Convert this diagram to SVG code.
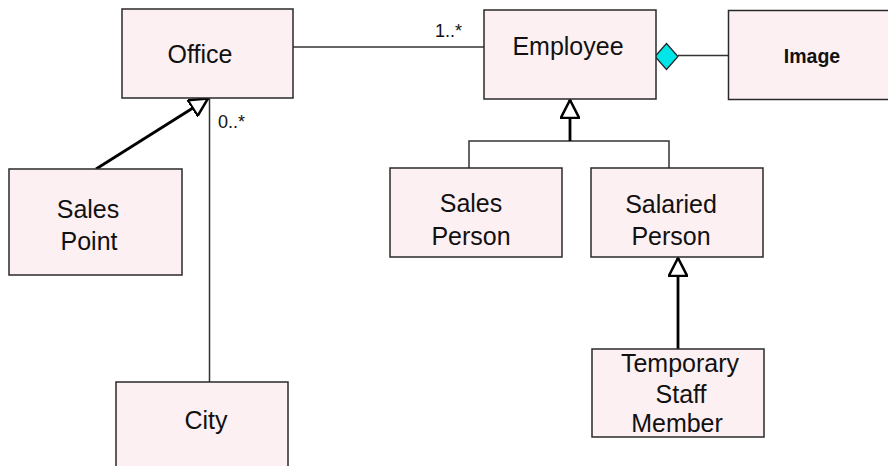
<svg xmlns="http://www.w3.org/2000/svg" width="888" height="466" viewBox="0 0 888 466">
  <style>
    .box { fill: #fdf0f3; stroke: #2a2a2a; stroke-width: 1.5; }
    .lbl { font-family: "Liberation Sans", Arial, sans-serif; font-size: 25px; fill: #111; text-anchor: middle; }
    .bold { font-weight: bold; font-size: 19.5px; }
    .mult { font-family: "Liberation Sans", Arial, sans-serif; font-size: 18px; fill: #111; }
    .assoc { fill: none; stroke: #333; stroke-width: 1.5; }
    .gen { fill: none; stroke: #000; stroke-width: 2.8; }
  </style>
  <defs>
    <marker id="hollow" viewBox="0 0 20 20" refX="19" refY="10" markerWidth="20" markerHeight="20" markerUnits="userSpaceOnUse" orient="auto">
      <path d="M1,0.8 L19,10 L1,19.2 Z" fill="#fff" stroke="#000" stroke-width="2.5" stroke-linejoin="miter"/>
    </marker>
  </defs>

  <g id="connectors">
    <!-- Office to Employee association -->
    <line class="assoc" x1="293" y1="47" x2="486" y2="47"/>
    <text class="mult" x="435" y="37">1..*</text>
    <!-- Office to City association -->
    <line class="assoc" x1="209.5" y1="98" x2="209.5" y2="382"/>
    <text class="mult" x="218" y="128">0..*</text>
    <!-- Sales Point generalizes to Office -->
    <line class="gen" x1="96" y1="169" x2="208" y2="98.5" marker-end="url(#hollow)"/>
    <!-- Employee generalization tree -->
    <polyline class="assoc" points="469,168 469,141 669,141 669,168"/>
    <line class="gen" x1="570" y1="141" x2="570" y2="100" marker-end="url(#hollow)"/>
    <!-- Temporary Staff Member generalizes to Salaried Person -->
    <line class="gen" x1="678" y1="349" x2="678" y2="258" marker-end="url(#hollow)"/>
    <!-- Employee composition of Image -->
    <line class="assoc" x1="678" y1="55.5" x2="728" y2="55.5"/>
    <polygon points="655,56.5 666.5,43.5 678,56.5 666.5,69.5" fill="#00e5e8" stroke="#222" stroke-width="1.2"/>
  </g>

  <g id="office">
    <rect class="box" x="122" y="9" width="171" height="89"/>
    <text class="lbl" x="200" y="63">Office</text>
  </g>

  <g id="employee">
    <rect class="box" x="484" y="10" width="172" height="89"/>
    <text class="lbl" x="568" y="55">Employee</text>
  </g>

  <g id="image">
    <rect class="box" x="728.5" y="10.5" width="168" height="89"/>
    <text class="lbl bold" x="812" y="63">Image</text>
  </g>

  <g id="sales-point">
    <rect class="box" x="9" y="169" width="173" height="106"/>
    <text class="lbl" x="88" y="218">Sales</text>
    <text class="lbl" x="89" y="250">Point</text>
  </g>

  <g id="city">
    <rect class="box" x="116" y="382" width="172" height="100"/>
    <text class="lbl" x="206" y="429">City</text>
  </g>

  <g id="sales-person">
    <rect class="box" x="390" y="168" width="172" height="89"/>
    <text class="lbl" x="471" y="212">Sales</text>
    <text class="lbl" x="471" y="245">Person</text>
  </g>

  <g id="salaried-person">
    <rect class="box" x="591" y="168" width="172" height="89"/>
    <text class="lbl" x="671" y="213">Salaried</text>
    <text class="lbl" x="671" y="245">Person</text>
  </g>

  <g id="temporary-staff-member">
    <rect class="box" x="592" y="349" width="172" height="88"/>
    <text class="lbl" x="680" y="372">Temporary</text>
    <text class="lbl" x="681" y="403">Staff</text>
    <text class="lbl" x="677" y="432">Member</text>
  </g>
</svg>
